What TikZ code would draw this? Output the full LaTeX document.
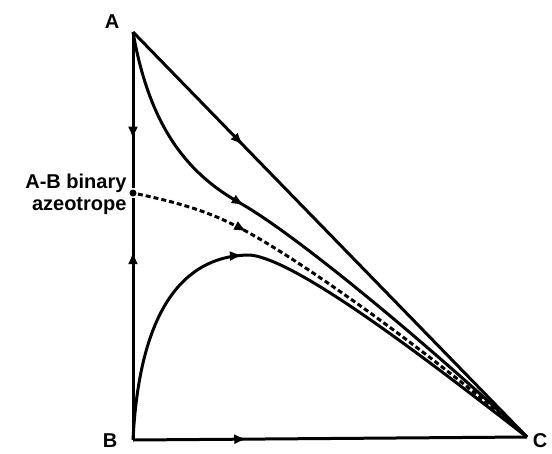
\documentclass[tikz,border=0pt]{standalone}
\usepackage{fontspec}
\setmainfont{Liberation Sans}
\usetikzlibrary{arrows.meta,decorations.markings}

\begin{document}
\begin{tikzpicture}[x=1pt,y=-1pt,line width=3pt,
  flow/.style={postaction={decorate,decoration={markings,
    mark=at position #1 with {\arrow{Latex[length=13pt,width=10pt]}}}}},
  lbl/.style={font=\fontsize{20}{22}\selectfont\bfseries,inner sep=0pt},
  dot/.style={circle,fill,inner sep=0pt,minimum size=7pt}]
\useasboundingbox (0,0) rectangle (552,453);
\coordinate (A) at (133,32);
\coordinate (B) at (133,440);
\coordinate (C) at (527,437);
\node[dot] (az) at (133,193) {};
\node[lbl] (lA) at (112,22) {A};
\node[lbl] (lB) at (110,441) {B};
\node[lbl] (lC) at (540,441) {C};
\node[lbl,anchor=east,align=right] (lAz) at (128,194) {A-B binary\\azeotrope};
% sides of the triangle
\draw[flow=.69] (A)--(az);
\draw[flow=.78] (B)--(az);
\draw[flow=.29] (B)--(C);
\draw[flow=.28] (A)--(C);
% residue curves
\draw[flow=.37] (A) .. controls (150,130) and (190,175) .. (240,203)
  .. controls (300,237) and (440,355) .. (C);
\draw[flow=.25,dash pattern=on 5pt off 3pt] (az) .. controls (190,205) and (215,215) .. (240,228)
  .. controls (300,259) and (440,360) .. (C);
\draw[flow=.41] (B) .. controls (140,300) and (190,255) .. (250,255)
  .. controls (300,260) and (440,370) .. (C);
\end{tikzpicture}
\end{document}
